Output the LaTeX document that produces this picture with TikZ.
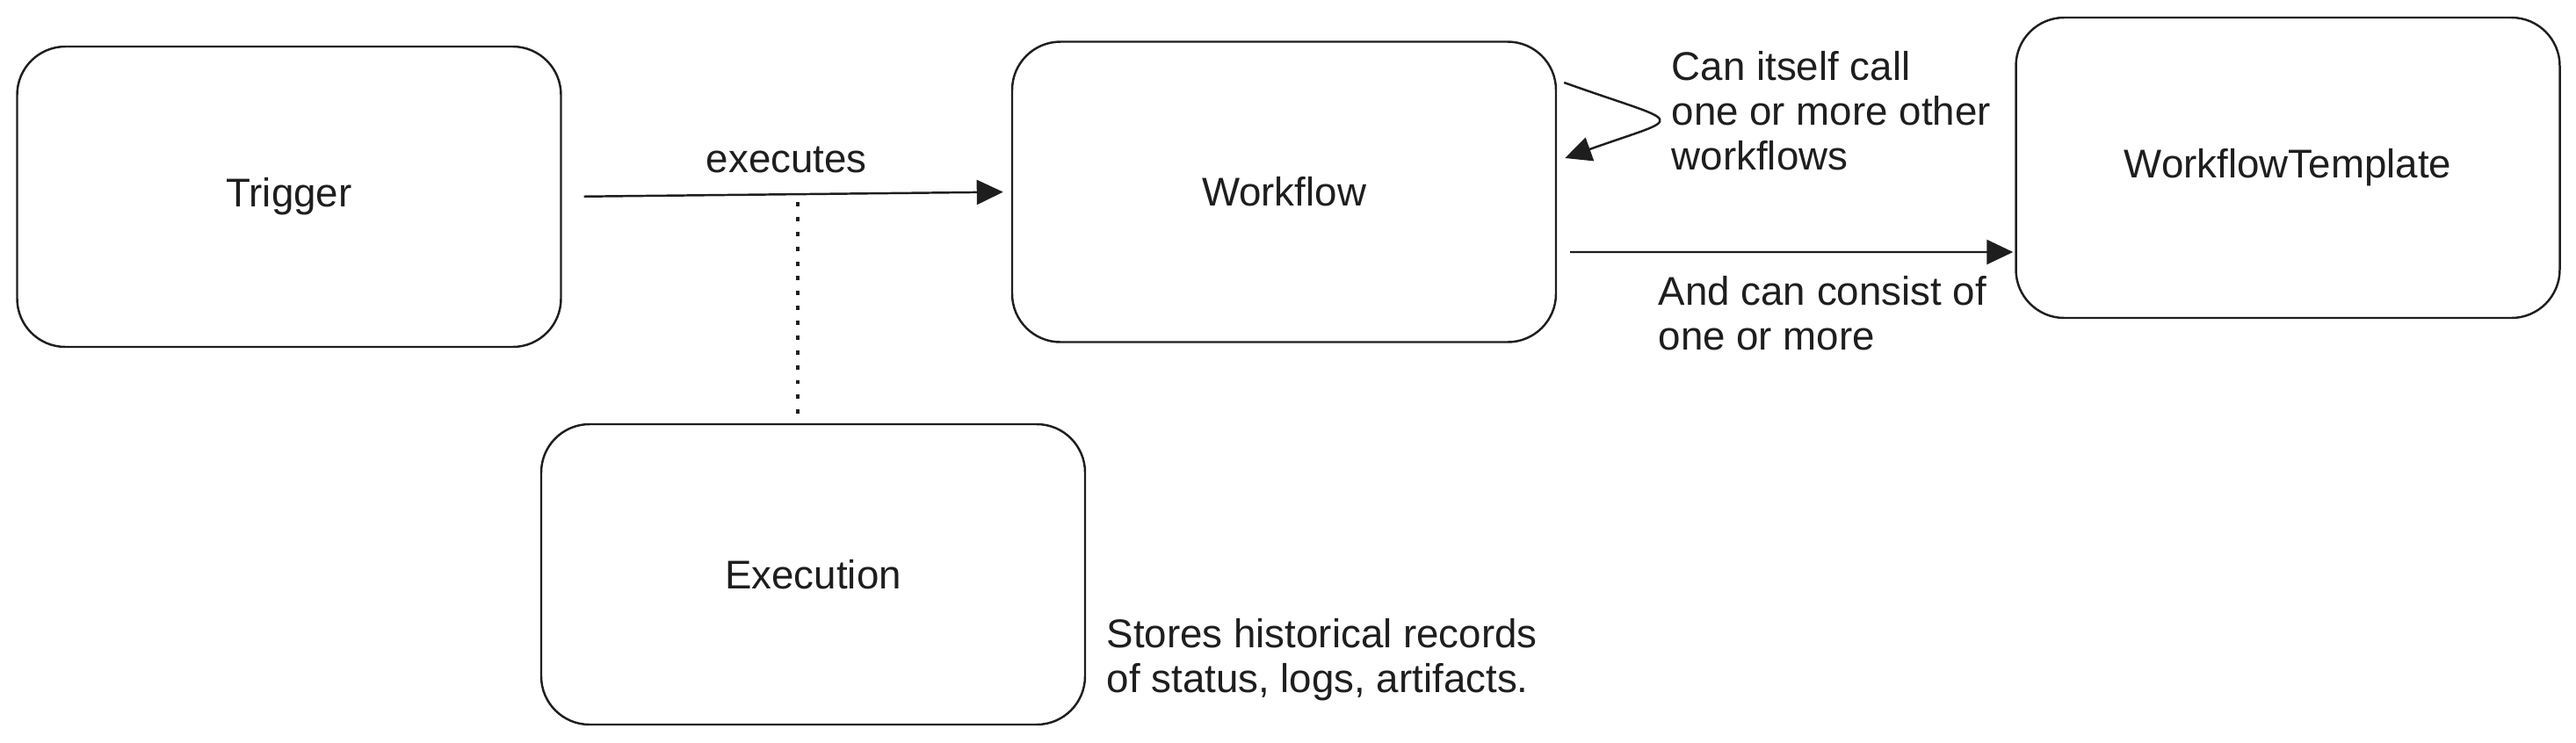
\documentclass[tikz,border=0pt]{standalone}
\usepackage{fontspec}
\setmainfont{Liberation Sans}
\usetikzlibrary{arrows.meta}
\definecolor{ink}{HTML}{1E1E1E}

\begin{document}
\begin{tikzpicture}[every node/.style={font=\fontsize{13}{14.4}\selectfont, text=ink},
  box/.style={draw=ink, line width=0.7pt, rounded corners=0.55cm, minimum width=6.19cm, minimum height=3.42cm},
  conn/.style={draw=ink, line width=0.7pt, -{Triangle[length=0.3cm,width=0.28cm]}},
  dotline/.style={draw=ink, line width=0.9pt, dash pattern=on 1.4pt off 3.4pt},
  note/.style={align=left, inner sep=0pt, anchor=base west}]
\useasboundingbox (0,0) rectangle (29.32,-8.45);
\node[box] (trigger) at (3.29,-2.24) {Trigger};
\node[box] (workflow) at (14.615,-2.185) {Workflow};
\node[box] (tmpl) at (26.04,-1.91) {WorkflowTemplate};
\node[box] (execution) at (9.255,-6.54) {Execution};
\draw[conn, shorten <=0.25cm, shorten >=0.09cm] (trigger.east) -- coordinate[pos=0.525] (tap)
  node[midway, above=0.11cm] (execlbl) {executes} (workflow.west);
\draw[dotline, shorten <=0.09cm, shorten >=0.11cm] (tap) -- (tap |- execution.north);
\draw[conn] ([shift={(0.08,1.245)}]workflow.east) .. controls +(1.4,-0.5) and +(1.4,0.5) .. ([shift={(0.09,0.385)}]workflow.east);
\draw[conn] ([shift={(0.15,-0.685)}]workflow.east) -- ([shift={(-0.02,-0.96)}]tmpl.west);
\node[note] (loopnote) at (19.02,-1.93) {Can itself call\\one or more other\\workflows};
\node[note] (consistnote) at (18.87,-3.98) {And can consist of\\one or more};
\node[note] (storenote) at (12.59,-7.88) {Stores historical records\\of status, logs, artifacts.};
\end{tikzpicture}
\end{document}
